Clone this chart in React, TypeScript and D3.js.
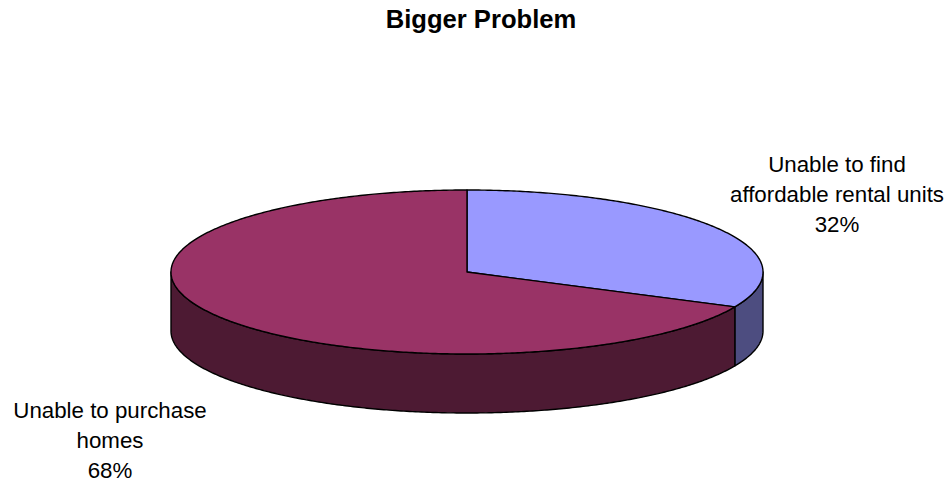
import React from "react";
import * as d3 from "d3";

const title = "Bigger Problem";
const categories = ["Unable to find affordable rental units", "Unable to purchase homes"];
const values = [32, 68];
const labelLines = [
  ["Unable to find", "affordable rental units", "32%"],
  ["Unable to purchase", "homes", "68%"],
];
const topColors = ["#9999FF", "#993366"];
const sideColors = ["#4D4D80", "#4D1A33"];

const W = 948;
const H = 483;
const cx = 467;
const cy = 272;
const rx = 296;
const ry = 82;
const depth = 59;

const pt = (a: number, dy = 0): [number, number] => [cx + rx * Math.sin(a), cy - ry * Math.cos(a) + dy];

function arcPts(a0: number, a1: number, dy = 0): [number, number][] {
  const n = Math.max(2, Math.ceil(Math.abs(a1 - a0) / 0.01));
  const out: [number, number][] = [];
  for (let i = 0; i <= n; i++) out.push(pt(a0 + ((a1 - a0) * i) / n, dy));
  return out;
}

const line = d3.line<[number, number]>().x((d) => d[0]).y((d) => d[1]);

export default function App() {
  const pie = d3.pie<number>().sort(null).startAngle(0).endAngle(2 * Math.PI);
  const arcs = pie(values);
  const font = "Arial, 'Liberation Sans', Helvetica, sans-serif";

  const sides: { d: string; fill: string }[] = [];
  arcs.forEach((a, i) => {
    const s = Math.max(a.startAngle, Math.PI / 2);
    const e = Math.min(a.endAngle, (3 * Math.PI) / 2);
    if (e > s) {
      const pts = [...arcPts(s, e, 0), ...arcPts(e, s, depth)];
      sides.push({ d: line(pts)! + "Z", fill: sideColors[i] });
    }
  });

  const tops = arcs.map((a, i) => {
    const pts: [number, number][] = [[cx, cy], ...arcPts(a.startAngle, a.endAngle, 0)];
    return { d: line(pts)! + "Z", fill: topColors[i] };
  });

  const labelPos = [
    { x: 837, y: 172 },
    { x: 110, y: 418 },
  ];

  return (
    <svg width={W} height={H} style={{ position: "absolute", left: 0, top: 0 }}>
      <rect width={W} height={H} fill="#fff" />
      <text x={481} y={28} textAnchor="middle" fontFamily={font} fontWeight="bold" fontSize={25.6}>
        {title}
      </text>
      {sides.map((s, i) => (
        <path key={"s" + i} d={s.d} fill={s.fill} stroke="#000" strokeWidth={1.4} strokeLinejoin="round" />
      ))}
      {tops.map((t, i) => (
        <path key={"t" + i} d={t.d} fill={t.fill} stroke="#000" strokeWidth={1.4} strokeLinejoin="round" />
      ))}
      {labelLines.map((lines, i) => (
        <text key={"l" + i} textAnchor="middle" fontFamily={font} fontSize={22.3} fill="#000">
          <title>{categories[i]}</title>
          {lines.map((ln, j) => (
            <tspan key={j} x={labelPos[i].x} y={labelPos[i].y + j * 30}>
              {ln}
            </tspan>
          ))}
        </text>
      ))}
    </svg>
  );
}
